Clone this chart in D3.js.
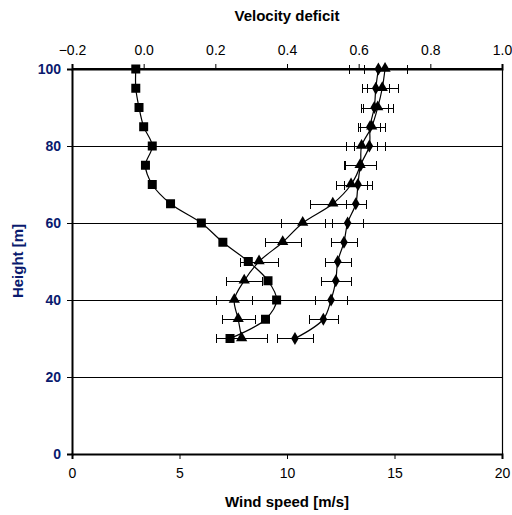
<!DOCTYPE html>
<html><head><meta charset="utf-8">
<script src="https://cdn.jsdelivr.net/npm/d3@7"></script>
<style>
html,body{margin:0;padding:0;background:#fff;}
svg{display:block;font-family:"Liberation Sans",Arial,sans-serif;}
</style></head>
<body><svg id="chart" width="512" height="515"></svg>
<script>
const heights = [100,95,90,85,80,75,70,65,60,55,50,45,40,35,30];
const deficit = [-0.022,-0.022,-0.013,0.000,0.024,0.005,0.024,0.075,0.161,0.221,0.292,0.347,0.371,0.340,0.241];
const windWake = [14.56,14.43,14.22,13.94,13.47,13.40,12.98,12.13,10.73,9.80,8.70,8.01,7.55,7.73,7.89];
const windWakeErr = [1.0,0.73,0.70,0.63,0.71,0.74,0.72,1.05,1.02,0.83,0.87,0.85,0.84,0.77,1.19];
const windFree = [14.25,14.13,14.06,13.86,13.83,13.43,13.30,13.20,12.82,12.65,12.36,12.27,12.05,11.69,10.37];
const windFreeErr = [1.35,0.62,0.62,0.45,0.72,0.72,0.66,0.47,0.71,0.60,0.60,0.70,0.76,0.69,0.84];
const heightTicks = [0,20,40,60,80,100];
const speedTicks = [0,5,10,15,20];
const deficitTicks = [-0.2,0.0,0.2,0.4,0.6,0.8,1.0];

const svg = d3.select("#chart");
const L = 72, R = 502, T = 69, B = 454;
const y = d3.scaleLinear().domain([0,100]).range([B,T]);
const xS = d3.scaleLinear().domain([0,20]).range([L,R]);
const xD = d3.scaleLinear().domain([-0.2,1.0]).range([L,R]);

// gridlines
svg.append("g").selectAll("line").data([20,40,60,80]).join("line")
  .attr("x1",L).attr("x2",R).attr("y1",d=>Math.round(y(d))+0.5).attr("y2",d=>Math.round(y(d))+0.5)
  .attr("stroke","#000").attr("stroke-width",1);

// border
svg.append("line").attr("x1",R+0.5).attr("x2",R+0.5).attr("y1",T).attr("y2",B).attr("stroke","#000").attr("stroke-width",1.2);
svg.append("line").attr("x1",L).attr("x2",R).attr("y1",T).attr("y2",T).attr("stroke","#000").attr("stroke-width",2);

// axes
const font = "Liberation Sans, Arial, sans-serif";
const gy = svg.append("g").attr("transform",`translate(${L},0)`)
  .call(d3.axisLeft(y).tickValues(heightTicks).tickSize(5).tickPadding(6).tickFormat(d3.format("d")));
gy.select(".domain").attr("stroke-width",2);
gy.selectAll("text").attr("fill","#0a1a6e").attr("font-size",14).attr("font-weight","bold").attr("font-family",font);

const gb = svg.append("g").attr("transform",`translate(0,${B})`)
  .call(d3.axisBottom(xS).tickValues(speedTicks).tickSize(5).tickPadding(9).tickFormat(d3.format("d")));
gb.select(".domain").attr("stroke-width",2);
gb.selectAll("text").attr("fill","#000").attr("font-size",14).attr("font-family",font);

const gt = svg.append("g").attr("transform",`translate(0,${T})`)
  .call(d3.axisTop(xD).tickValues(deficitTicks).tickSize(5).tickPadding(9).tickFormat(d3.format(".1f")));
gt.select(".domain").attr("stroke-width",2);
gt.selectAll("text").attr("fill","#000").attr("font-size",14).attr("font-family",font);

// titles
svg.append("text").attr("x",287).attr("y",21).attr("text-anchor","middle")
  .attr("font-weight","bold").attr("font-size",15).text("Velocity deficit");
svg.append("text").attr("x",287).attr("y",507).attr("text-anchor","middle")
  .attr("font-weight","bold").attr("font-size",15).text("Wind speed [m/s]");
svg.append("text").attr("transform","translate(23,261) rotate(-90)").attr("text-anchor","middle")
  .attr("font-weight","bold").attr("font-size",15).attr("fill","#0a1a6e").text("Height [m]");

// error bars
function errBars(vals, errs){
  const g = svg.append("g").attr("stroke","#000").attr("stroke-width",1);
  heights.forEach((h,i)=>{
    const yy = Math.round(y(h))+0.5;
    const x0 = Math.round(xS(vals[i]-errs[i]))+0.5, x1 = Math.round(xS(vals[i]+errs[i]))+0.5;
    g.append("line").attr("x1",x0).attr("x2",x1).attr("y1",yy).attr("y2",yy);
    g.append("line").attr("x1",x0).attr("x2",x0).attr("y1",yy-4.5).attr("y2",yy+4.5);
    g.append("line").attr("x1",x1).attr("x2",x1).attr("y1",yy-4.5).attr("y2",yy+4.5);
  });
}
errBars(windWake, windWakeErr);
errBars(windFree, windFreeErr);

// lines
const curve = d3.curveCatmullRom.alpha(0.5);
function drawLine(xs, scale){
  const pts = heights.map((h,i)=>[scale(xs[i]), y(h)]);
  svg.append("path").attr("d", d3.line().curve(curve)(pts))
    .attr("fill","none").attr("stroke","#000").attr("stroke-width",1.2);
}
drawLine(deficit, xD);
drawLine(windWake, xS);
drawLine(windFree, xS);

// markers
svg.append("g").selectAll("rect").data(heights).join("rect")
  .attr("x",(h,i)=>xD(deficit[i])-4.5).attr("y",h=>y(h)-4.5).attr("width",9).attr("height",9).attr("fill","#000");
const tri = d3.symbol().type(d3.symbolTriangle).size(55);
svg.append("g").selectAll("path").data(heights).join("path")
  .attr("d",tri).attr("transform",(h,i)=>`translate(${xS(windWake[i])},${y(h)-0.5})`).attr("fill","#000");
const dia = d3.symbol().type(d3.symbolDiamond).size(50);
svg.append("g").selectAll("path").data(heights).join("path")
  .attr("d",dia).attr("transform",(h,i)=>`translate(${xS(windFree[i])},${y(h)})`).attr("fill","#000");
</script></body></html>
